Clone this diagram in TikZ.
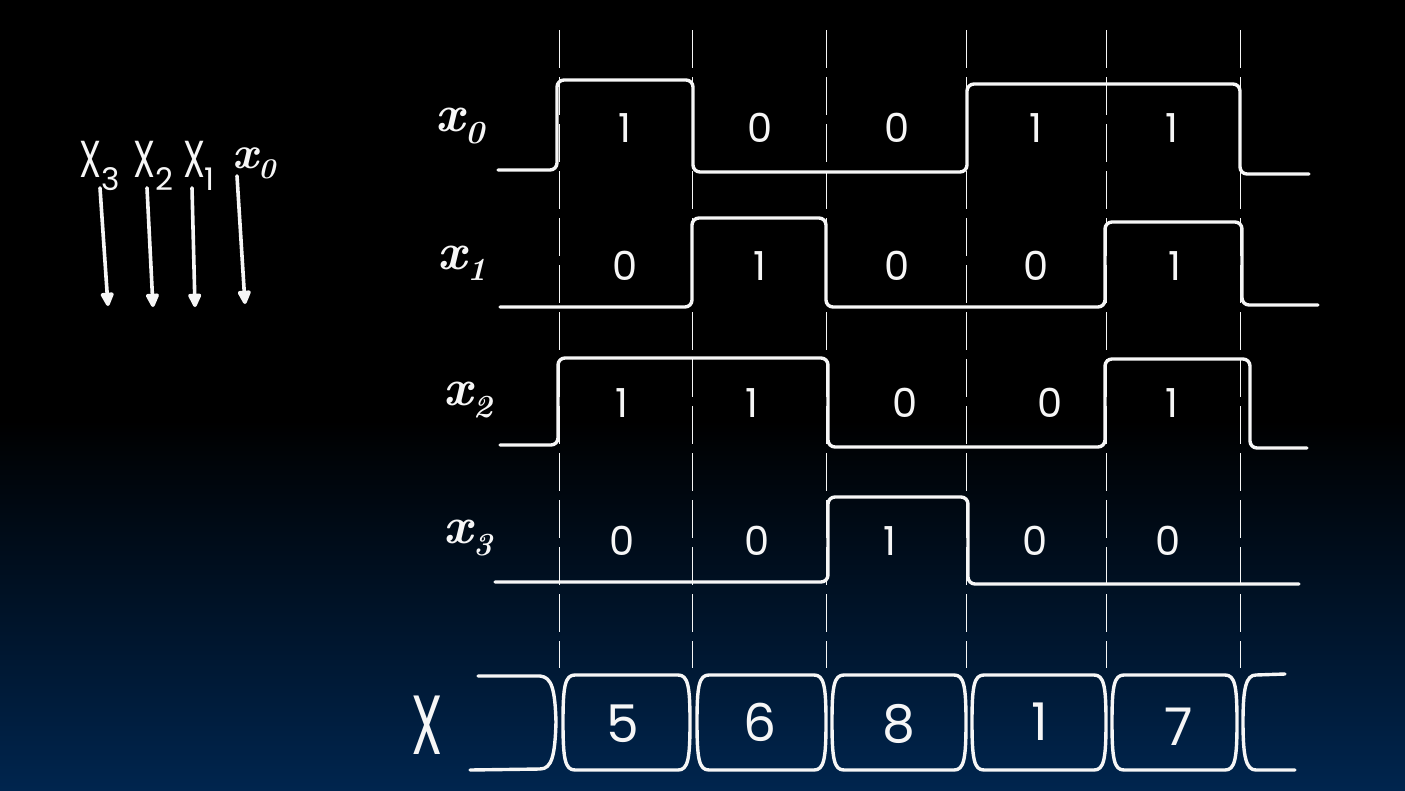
\documentclass[tikz,border=0pt]{standalone}
\usepackage{graphicx}
\usepackage{fontspec}
\setsansfont{Poppins}
\usetikzlibrary{arrows.meta}
\definecolor{navy}{RGB}{0,37,78}
\definecolor{chalk}{RGB}{246,246,246}
\newcommand{\sublbl}[2]{#1\raisebox{-0.22em}{\scalebox{0.62}{#2}}}
\newcommand{\legX}[1]{\scalebox{0.68}[1]{X}\raisebox{-0.25em}{\scalebox{0.6}{#1}}}
\tikzset{
  wave/.style={line width=3.4pt, draw=chalk, rounded corners=7pt, line join=round, line cap=round},
  gridline/.style={line width=1pt, draw=chalk, dash pattern=on 38pt off 9pt},
  bitlbl/.style={text=chalk, font=\fontsize{40}{40}\selectfont\sffamily, inner sep=0pt},
  buslbl/.style={text=chalk, font=\fontsize{52}{52}\selectfont\sffamily, inner sep=0pt},
  rowlbl/.style={text=chalk, font=\fontsize{52}{52}\selectfont\bfseries\itshape, inner sep=0pt},
  leglbl/.style={text=chalk, font=\fontsize{52}{52}\selectfont\sffamily, inner sep=0pt},
  bus/.style={line width=3.4pt, draw=chalk, line join=round, line cap=round},
  arr/.style={line width=3.6pt, draw=chalk, line cap=round, -{Triangle[length=16pt,width=14pt,round,fill=chalk]}},
}
\begin{document}
\begin{tikzpicture}[x=1pt,y=-1pt]
\useasboundingbox (0,0) rectangle (1405,790);
% background
\fill[black] (0,0) rectangle (1405,420.5);
\shade[top color=black, bottom color=navy] (0,420) rectangle (1405,790);

% dashed grid lines
\foreach \gx in {559,692,826,966,1106,1240}
  \draw[gridline] (\gx,30) -- (\gx,668);

% waveforms
\draw[wave] (498,170) -- (557,170) -- (557,80) -- (693,80) -- (693,172) -- (967,172) -- (967,84) -- (1240,84) -- (1240,174) -- (1309,174);
\draw[wave] (500,307) -- (692,307) -- (692,218) -- (826,218) -- (826,307) -- (1105,307) -- (1105,222) -- (1242,222) -- (1242,305) -- (1318,305);
\draw[wave] (500,445) -- (558,445) -- (558,358) -- (828,358) -- (828,447) -- (1105,447) -- (1105,359) -- (1250,359) -- (1250,448) -- (1307,448);
\draw[wave] (495,582) -- (828,582) -- (828,497) -- (968,497) -- (968,584) -- (1299,584);

% row labels
\node[rowlbl] (r0) at (460,126) {\sublbl{x}{0}};
\node[rowlbl] (r1) at (462,263) {\sublbl{x}{1}};
\node[rowlbl] (r2) at (468,400) {\sublbl{x}{2}};
\node[rowlbl] (r3) at (468,538) {\sublbl{x}{3}};

% bit values
\foreach \v [count=\i] in {1,0,0,1,1} {
  \pgfmathsetmacro{\cx}{{625,760,897,1036,1172}[\i-1]}
  \node[bitlbl] (b0\i) at (\cx,128) {\v};
}
\foreach \v [count=\i] in {0,1,0,0,1} {
  \pgfmathsetmacro{\cx}{{625,760,897,1036,1175}[\i-1]}
  \node[bitlbl] (b1\i) at (\cx,266) {\v};
}
\foreach \v [count=\i] in {1,1,0,0,1} {
  \pgfmathsetmacro{\cx}{{622,752,905,1050,1172}[\i-1]}
  \node[bitlbl] (b2\i) at (\cx,403) {\v};
}
\foreach \v [count=\i] in {0,0,1,0,0} {
  \pgfmathsetmacro{\cx}{{622,757,890,1035,1168}[\i-1]}
  \node[bitlbl] (b3\i) at (\cx,541) {\v};
}

% bus X
\node[text=chalk, font=\fontsize{84}{84}\selectfont\sffamily, inner sep=0pt] (xl) at (427,725) {\scalebox{0.6}[1]{X}};
\draw[bus] (478,676) -- (540,676) .. controls (552,677) and (555,690) .. (556,722) .. controls (555,755) and (552,769) .. (540,769) -- (470,770);
\foreach \a/\b in {563/690, 697/826, 832/966, 972/1106, 1112/1237}
  \draw[bus] (\a+12,675) -- (\b-12,675) .. controls (\b-2,675) and (\b,686) .. (\b,722)
     .. controls (\b,759) and (\b-2,770) .. (\b-12,770) -- (\a+12,770)
     .. controls (\a+2,770) and (\a,759) .. (\a,722)
     .. controls (\a,686) and (\a+2,675) .. (\a+12,675) -- cycle;
\draw[bus] (1285,674) -- (1256,675) .. controls (1246,675) and (1243,688) .. (1243,722) .. controls (1243,757) and (1246,770) .. (1256,770) -- (1295,770);
\node[buslbl] (v1) at (623,724) {5};
\node[buslbl] (v2) at (760,722) {6};
\node[buslbl] (v3) at (899,724) {8};
\node[buslbl] (v4) at (1040,722) {1};
\node[buslbl] (v5) at (1179,727) {7};

% legend
\node[leglbl] (L3) at (100,166) {\legX{3}};
\node[leglbl] (L2) at (153,166) {\legX{2}};
\node[leglbl] (L1) at (199,166) {\legX{1}};
\node[rowlbl, font=\fontsize{46}{46}\selectfont\bfseries\itshape] (L0) at (254,163) {\sublbl{x}{0}};
\coordinate (e3) at (108,306);
\coordinate (e2) at (153,307);
\coordinate (e1) at (195,307);
\coordinate (e0) at (245,304);
\draw[arr] ([yshift=3pt]L3.south) -- (e3);
\draw[arr] ([xshift=-6pt,yshift=3pt]L2.south) -- (e2);
\draw[arr] ([xshift=-7pt,yshift=3pt]L1.south) -- (e1);
\draw[arr] ([xshift=-17pt,yshift=3pt]L0.south) -- (e0);
\end{tikzpicture}
\end{document}
